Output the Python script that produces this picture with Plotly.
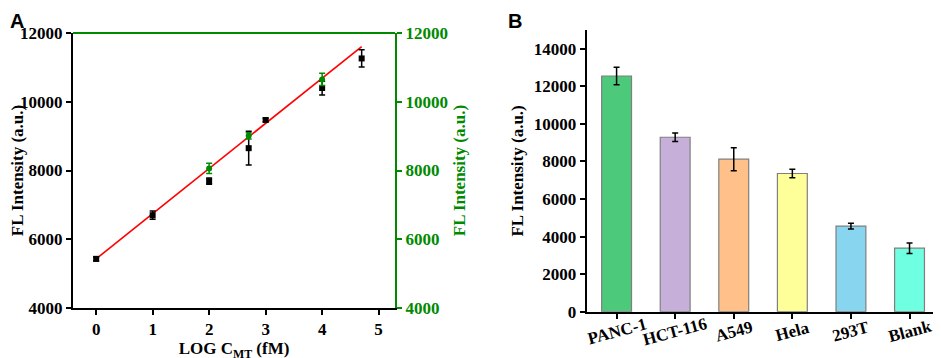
import plotly.graph_objects as go

# Panel A data
log_c = [0, 1, 2, 2.7, 3, 4, 4.7]
fl_black = [5430, 6700, 7690, 8650, 9470, 10400, 11260]
fl_black_err = [60, 120, 90, 490, 50, 200, 250]
log_c_green = [2, 2.7, 4]
fl_green = [8060, 9010, 10650]
fl_green_err = [150, 90, 180]
fit_intercept = 5430
fit_slope = 1314
fit_x = [0, 4.7]
a_ticks = [4000, 6000, 8000, 10000, 12000]
a_xticks = [0, 1, 2, 3, 4, 5]

# Panel B data
cells = ["PANC-1", "HCT-116", "A549", "Hela", "293T", "Blank"]
cell_fl = [12550, 9290, 8120, 7360, 4560, 3380]
cell_err = [470, 230, 610, 230, 150, 280]
cell_colors = ["#4DC97B", "#C6B0D9", "#FFC08A", "#FFFF99", "#88D5EF", "#6FFFE1"]
b_ticks = [0, 2000, 4000, 6000, 8000, 10000, 12000, 14000]

SERIF = "Liberation Serif"
GREEN = "#008A00"
W, H = 941, 358
OFF = 8  # page body margin offset


def px_x(p):
    return (p - OFF) / W


def px_y(p):
    return 1 - (p - OFF) / H


fig = go.Figure()

fig.add_trace(go.Scatter(
    x=fit_x, y=[fit_intercept + fit_slope * v for v in fit_x],
    mode="lines", line=dict(color="#FF0000", width=1.6),
    xaxis="x", yaxis="y", showlegend=False, hoverinfo="skip"))

fig.add_trace(go.Scatter(
    x=log_c, y=fl_black, mode="markers",
    marker=dict(symbol="square", size=6, color="black"),
    error_y=dict(type="data", array=fl_black_err, color="black", thickness=1.5, width=3),
    xaxis="x", yaxis="y", showlegend=False))

fig.add_trace(go.Scatter(
    x=log_c_green, y=fl_green, mode="markers",
    marker=dict(symbol="circle", size=6, color=GREEN),
    error_y=dict(type="data", array=fl_green_err, color=GREEN, thickness=1.5, width=3),
    xaxis="x", yaxis="y2", showlegend=False))

fig.add_trace(go.Bar(
    x=cells, y=cell_fl, width=0.51,
    marker=dict(color=cell_colors, line=dict(color="#7f7f7f", width=1.2)),
    error_y=dict(type="data", array=cell_err, color="black", thickness=1.5, width=3),
    xaxis="x3", yaxis="y3", showlegend=False))

tickfont = dict(family=SERIF, size=17, color="black", weight="bold")
titlefont = dict(family=SERIF, size=17, color="black", weight="bold")
gtickfont = dict(family=SERIF, size=17, color=GREEN, weight="bold")
gtitlefont = dict(family=SERIF, size=17, color=GREEN, weight="bold")

A_dom_x = [px_x(73), px_x(395)]
A_dom_y = [px_y(308), px_y(33)]
B_dom_x = [px_x(586.7), px_x(940)]
B_dom_y = [px_y(311.7), px_y(30)]

common = dict(showline=True, linewidth=2, ticks="outside", ticklen=5, tickwidth=1.5,
              showgrid=False, zeroline=False, automargin=False)

annotations = [
    dict(text="<b>A</b>", x=0.0, y=1.0, xref="paper", yref="paper", xanchor="left",
         yanchor="top", showarrow=False,
         font=dict(family="Liberation Sans", size=20, color="black")),
    dict(text="<b>B</b>", x=px_x(506), y=1.0, xref="paper", yref="paper", xanchor="left",
         yanchor="top", showarrow=False,
         font=dict(family="Liberation Sans", size=20, color="black")),
]
for c in cells:
    annotations.append(dict(text=c, x=c, y=px_y(331), xref="x3", yref="paper",
                            xanchor="center", yanchor="middle", textangle=-15,
                            showarrow=False, font=tickfont))

fig.update_layout(
    width=W, height=H,
    margin=dict(l=0, r=0, t=0, b=0, autoexpand=False),
    plot_bgcolor="white", paper_bgcolor="white",
    xaxis=dict(domain=A_dom_x, range=[-0.41, 5.29], tickvals=a_xticks,
               linecolor="black", tickcolor="black", tickfont=tickfont, anchor="y",
               title=dict(text="LOG C<sub>MT</sub> (fM)", font=titlefont, standoff=0), **common),
    yaxis=dict(domain=A_dom_y, range=[4000, 12000], tickvals=a_ticks, tickformat="d",
               linecolor="black", tickcolor="black", tickfont=tickfont, anchor="x",
               title=dict(text="FL Intensity (a.u.)", font=titlefont, standoff=3), **common),
    yaxis2=dict(domain=A_dom_y, range=[4000, 12000], tickvals=a_ticks, tickformat="d",
                overlaying="y", side="right", anchor="x",
                linecolor=GREEN, tickcolor=GREEN, tickfont=gtickfont,
                title=dict(text="FL Intensity (a.u.)", font=gtitlefont, standoff=6), **common),
    xaxis3=dict(domain=B_dom_x, range=[-0.51, 5.52], anchor="y3",
                linecolor="black", tickcolor="black", showticklabels=False,
                showline=True, linewidth=2, ticks="outside", ticklen=5, tickwidth=1.5,
                showgrid=False, automargin=False),
    yaxis3=dict(domain=B_dom_y, range=[0, 15000], tickvals=b_ticks, tickformat="d",
                anchor="x3", linecolor="black", tickcolor="black", tickfont=tickfont,
                title=dict(text="FL Intensity (a.u.)", font=titlefont, standoff=6), **common),
    shapes=[dict(type="line", xref="paper", yref="paper",
                 x0=A_dom_x[0], x1=A_dom_x[1], y0=A_dom_y[1], y1=A_dom_y[1],
                 line=dict(color=GREEN, width=2))],
    annotations=annotations,
)

fig.write_html("out.html")
